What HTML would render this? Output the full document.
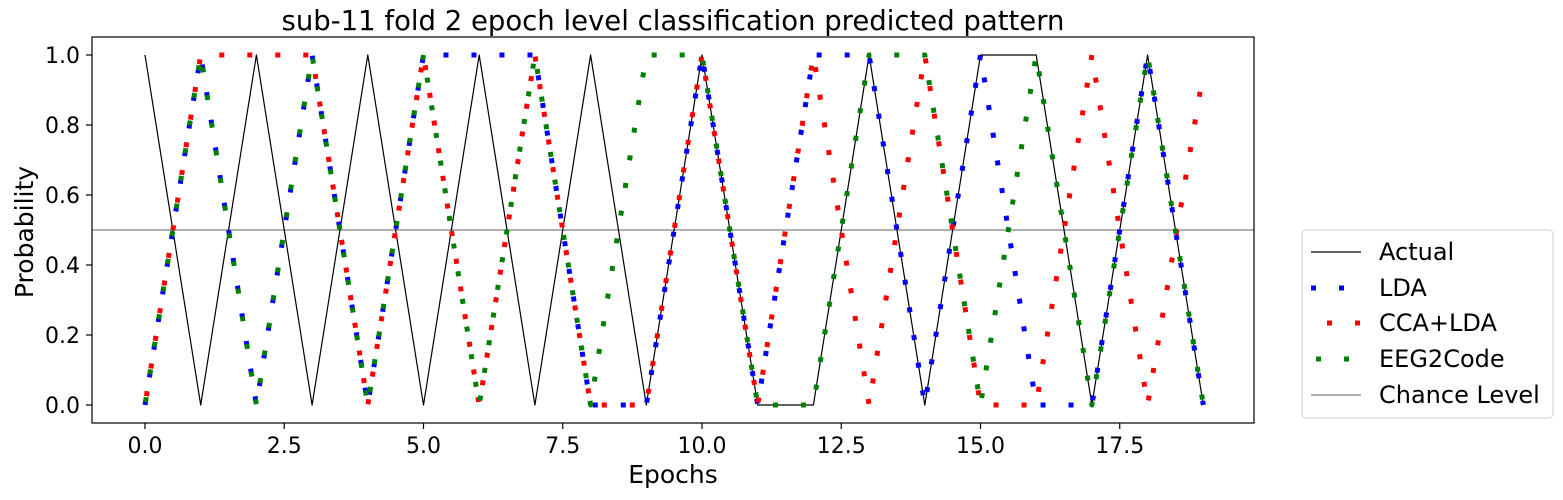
<!DOCTYPE html>
<html><head><meta charset="utf-8">
<style>
html,body{margin:0;padding:0;background:#fff;}
svg{display:block;font-family:"DejaVu Sans","Liberation Sans",sans-serif;}
</style></head>
<body>
<svg id="chart" width="1563" height="500" viewBox="0 0 1563 500" xmlns="http://www.w3.org/2000/svg">
<text x="673" y="30" font-size="27.5" text-anchor="middle" fill="#000">sub-11 fold 2 epoch level classification predicted pattern</text>
<g id="plot"></g>
<rect x="92" y="37" width="1162" height="386" fill="none" stroke="#000" stroke-width="1.2"/>
<text x="673" y="483" font-size="25" text-anchor="middle">Epochs</text>
<text x="0" y="0" font-size="25" text-anchor="middle" transform="translate(33,232) rotate(-90)">Probability</text>
<g>
<rect x="1302" y="230" width="251" height="188" rx="4" fill="#fff" stroke="#ccc" stroke-width="1"/>
<g><line x1="1311" y1="252" x2="1361" y2="252" stroke="#000" stroke-width="1.2"/><text x="1379" y="260" font-size="24">Actual</text></g>
<g><line x1="1311" y1="288" x2="1361" y2="288" stroke="#0000ff" stroke-width="5" stroke-dasharray="5 23"/><text x="1379" y="296" font-size="24">LDA</text></g>
<g><line x1="1327" y1="323" x2="1361" y2="323" stroke="#ff0000" stroke-width="5" stroke-dasharray="5 23"/><text x="1379" y="331" font-size="24">CCA+LDA</text></g>
<g><line x1="1316" y1="359" x2="1361" y2="359" stroke="#008000" stroke-width="5" stroke-dasharray="5 23"/><text x="1379" y="367" font-size="24">EEG2Code</text></g>
<g><line x1="1311" y1="395" x2="1361" y2="395" stroke="#808080" stroke-width="1.2"/><text x="1379" y="403" font-size="24">Chance Level</text></g>
</g>
</svg>
<script>
const epochs = [0,1,2,3,4,5,6,7,8,9,10,11,12,13,14,15,16,17,18,19];
const actualValues = [1,0,1,0,1,0,1,0,1,0,1,0,0,1,0,1,1,0,1,0];
const ldaValues = [0,1,0,1,0,1,1,1,0,0,1,0,1,1,0,1,0,0,1,0];
const ccaLdaValues = [0,1,1,1,0,1,0,1,0,0,1,0,1,0,1,0,0,1,0,0.95];
const eeg2codeValues = [0,1,0,1,0,1,0,1,0,1,1,0,0,1,1,0,1,0,1,0];
const chanceLevel = 0.5;
const xTicks = [0,2.5,5,7.5,10,12.5,15,17.5];
const xTickLabels = ["0.0","2.5","5.0","7.5","10.0","12.5","15.0","17.5"];
const yTicks = [0,0.2,0.4,0.6,0.8,1.0];
const yTickLabels = ["0.0","0.2","0.4","0.6","0.8","1.0"];

const NS = "http://www.w3.org/2000/svg";
const svg = document.getElementById('chart');
const plot = document.getElementById('plot');
function xScale(v){ return 145 + v * 55.7; }
function yScale(v){ return 405 - v * 350; }
function mk(tag, attrs, parent){
  const el = document.createElementNS(NS, tag);
  for (const k in attrs) el.setAttribute(k, attrs[k]);
  parent.appendChild(el);
  return el;
}
const ch = mk('line', {x1:92, x2:1254, y1:yScale(chanceLevel), y2:yScale(chanceLevel), stroke:'#808080', 'stroke-width':1.2}, plot);


function series(vals, color, width, dash, offset, name){
  const d = vals.map((v,i)=>(i?'L':'M')+xScale(epochs[i]).toFixed(2)+','+yScale(v).toFixed(2)).join(' ');
  const p = mk('path', {d:d, fill:'none', stroke:color, 'stroke-width':width, 'stroke-linejoin':'round'}, plot);
  if (dash){ p.setAttribute('stroke-dasharray', dash); p.setAttribute('stroke-dashoffset', offset); }
  
  
}
series(actualValues, '#000', 1.2, null, 0, 'actual-line');
series(ldaValues, '#0000ff', 5, '5 23', 0, 'lda-line');
series(ccaLdaValues, '#ff0000', 5, '5 23', -9, 'cca-lda-line');
series(eeg2codeValues, '#008000', 5, '5 23', -3, 'eeg2code-line');
xTicks.forEach((t,i)=>{
  const x = xScale(t);
  mk('line', {x1:x, x2:x, y1:423, y2:429, stroke:'#000', 'stroke-width':1.2}, svg);
  const tx = mk('text', {x:x, y:453, 'font-size':22, 'text-anchor':'middle'}, svg);
  tx.textContent = xTickLabels[i];
  
  
});
yTicks.forEach((t,i)=>{
  const y = yScale(t);
  mk('line', {x1:86, x2:92, y1:y, y2:y, stroke:'#000', 'stroke-width':1.2}, svg);
  const ty = mk('text', {x:80, y:y+8, 'font-size':22, 'text-anchor':'end'}, svg);
  ty.textContent = yTickLabels[i];
  
  
});
</script>
</body></html>
